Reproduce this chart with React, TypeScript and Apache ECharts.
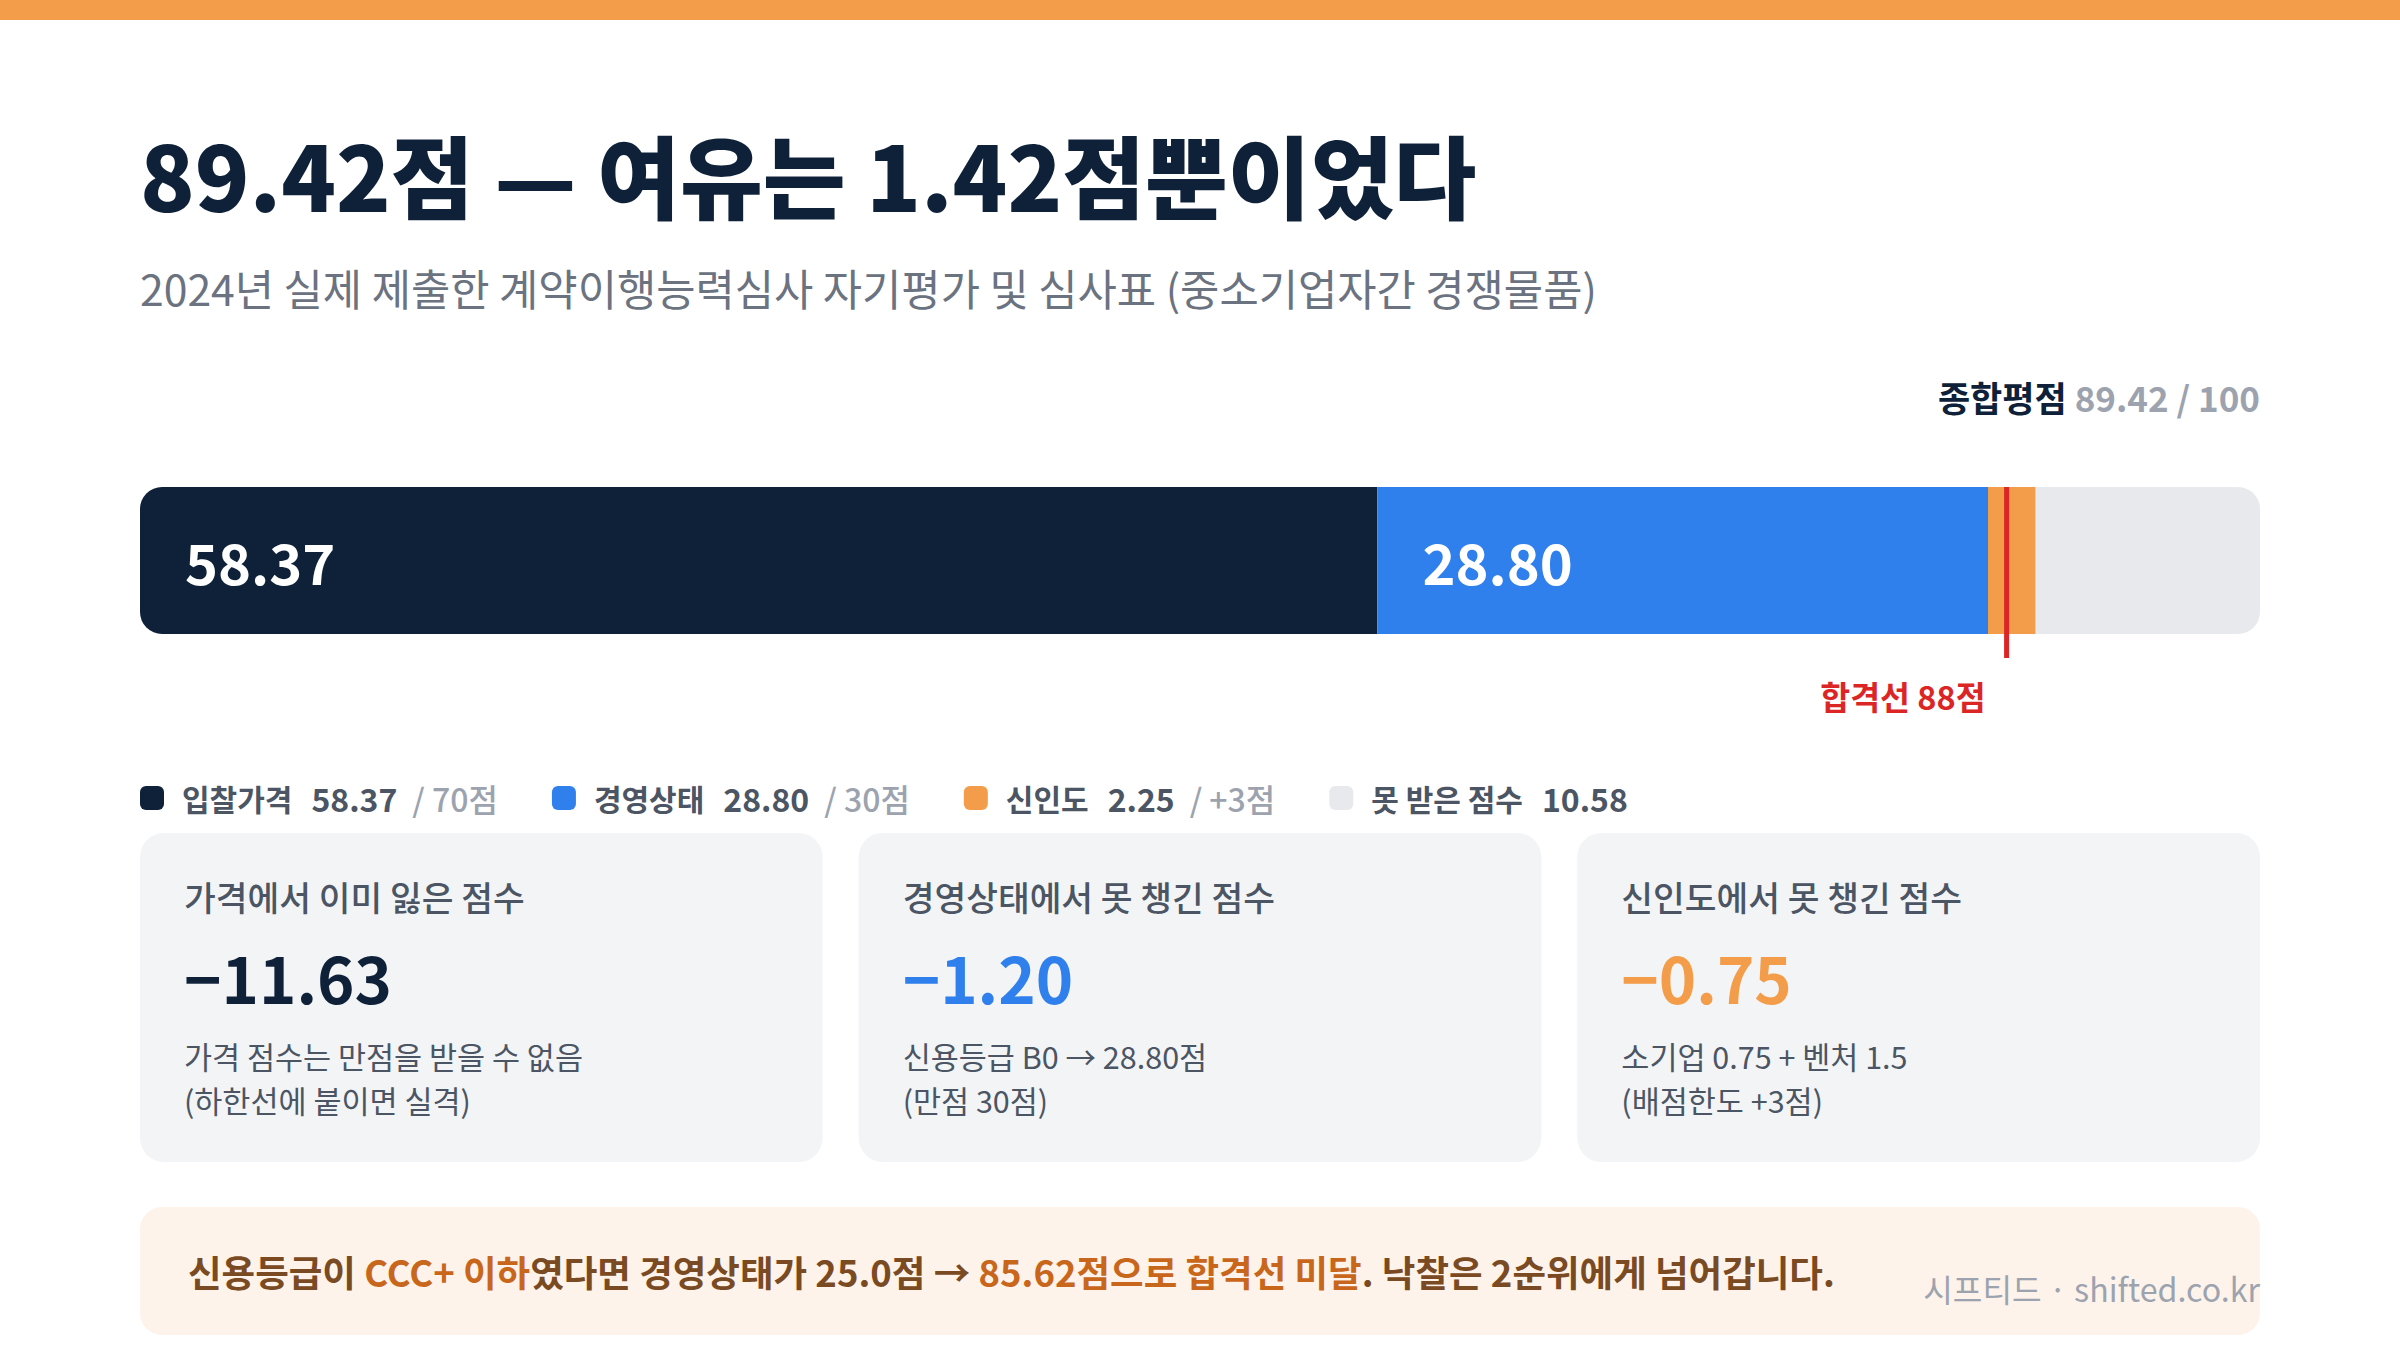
import React, { useEffect, useRef } from "react";
import * as echarts from "echarts";

const categories = ["입찰가격", "경영상태", "신인도", "못 받은 점수"];
const scores = [58.37, 28.8, 2.25];
const maxScores = [70, 30, 3];
const maxLabels = ["/ 70점", "/ 30점", "/ +3점"];
const fullScore = 100;
const passLine = 88;
const altMgmtScore = 25.0;
const altRating = "CCC+ 이하";
const cardTitles = ["가격에서 이미 잃은 점수", "경영상태에서 못 챙긴 점수", "신인도에서 못 챙긴 점수"];
const cardNotes = [
  ["가격 점수는 만점을 받을 수 없음", "(하한선에 붙이면 실격)"],
  ["신용등급 B0 → 28.80점", "(만점 30점)"],
  ["소기업 0.75 + 벤처 1.5", "(배점한도 +3점)"],
];
const subtitle = "2024년 실제 제출한 계약이행능력심사 자기평가 및 심사표 (중소기업자간 경쟁물품)";
const footer = "시프티드 · shifted.co.kr";

const colors = ["#0f2139", "#2f80ed", "#f39c4a", "#e8e9ed"];
const FONT = "'Noto Sans CJK KR', 'Noto Sans CJK SC', 'Noto Sans', sans-serif";

const r2 = (v: number) => Math.round(v * 100) / 100;

export default function App() {
  const ref = useRef<HTMLDivElement>(null);
  useEffect(() => {
    if (!ref.current) return;
    const chart = echarts.init(ref.current, undefined, { renderer: "svg" });
    const total = r2(scores.reduce((a, b) => a + b, 0));
    const missing = r2(fullScore - total);
    const values = [...scores, missing];
    const margin = r2(total - passLine);
    const altTotal = r2(total - scores[1] + altMgmtScore);

    const gridLeft = 140;
    const gridWidth = 2120;
    const cardGap = 36;
    const cardW = (gridWidth - cardGap * 2) / 3;
    const cardTop = 833;
    const cardH = 329;
    const numColors = [colors[0], colors[1], colors[2]];

    const graphic: any[] = [
      { type: "rect", shape: { x: 0, y: 0, width: 2400, height: 20 }, style: { fill: "#f39c4a" } },
      {
        type: "text", x: 140, y: 173,
        style: { text: `${total.toFixed(2)}점 — 여유는 ${margin.toFixed(2)}점뿐이었다`, fontSize: 90, fontWeight: 900, fontFamily: FONT, fill: "#0f2139", align: "left", verticalAlign: "middle" },
      },
      {
        type: "text", x: 140, y: 287,
        style: { text: subtitle, fontSize: 42.7, fontWeight: 400, fontFamily: FONT, fill: "#6b7280", align: "left", verticalAlign: "middle" },
      },
      {
        type: "text", x: 2260, y: 396,
        style: {
          text: `{a|종합평점}{b| ${total.toFixed(2)} / ${fullScore}}`,
          align: "right", verticalAlign: "middle", fontFamily: FONT,
          rich: {
            a: { fontSize: 35, fontWeight: "bold", fill: "#0f2139", fontFamily: FONT },
            b: { fontSize: 35, fontWeight: 600, fill: "#9ca3af", fontFamily: FONT },
          },
        },
      },
    ];

    for (let i = 0; i < 3; i++) {
      const x = gridLeft + i * (cardW + cardGap);
      graphic.push({ type: "rect", shape: { x, y: cardTop, width: cardW, height: cardH, r: 24 }, style: { fill: "#f3f4f6" } });
      graphic.push({ type: "text", x: x + 44, y: 896, style: { text: cardTitles[i], fontSize: 34.5, fontWeight: 500, fontFamily: FONT, fill: "#4b5563", verticalAlign: "middle" } });
      graphic.push({ type: "text", x: x + 44, y: 976, style: { text: `−${r2(maxScores[i] - scores[i]).toFixed(2)}`, fontSize: 63.5, fontWeight: "bold", fontFamily: FONT, fill: numColors[i], verticalAlign: "middle" } });
      graphic.push({ type: "text", x: x + 44, y: 1056, style: { text: cardNotes[i][0], fontSize: 30.5, fontWeight: 400, fontFamily: FONT, fill: "#4b5563", verticalAlign: "middle" } });
      graphic.push({ type: "text", x: x + 44, y: 1100, style: { text: cardNotes[i][1], fontSize: 30.5, fontWeight: 400, fontFamily: FONT, fill: "#4b5563", verticalAlign: "middle" } });
    }

    graphic.push({ type: "rect", shape: { x: gridLeft, y: 1207, width: gridWidth, height: 128, r: 22 }, style: { fill: "#fdf3ea" } });
    graphic.push({
      type: "text", x: 188, y: 1271,
      style: {
        text: `{a|신용등급이 }{b|${altRating}}{a|였다면 경영상태가 ${altMgmtScore.toFixed(1)}점 → }{b|${altTotal.toFixed(2)}점으로 합격선 미달}{a|. 낙찰은 2순위에게 넘어갑니다.}`,
        verticalAlign: "middle", fontFamily: FONT,
        rich: {
          a: { fontSize: 36.5, fontWeight: "bold", fill: "#7a4a22", fontFamily: FONT },
          b: { fontSize: 36.5, fontWeight: "bold", fill: "#c8661c", fontFamily: FONT },
        },
      },
    });
    graphic.push({
      type: "text", x: 2260, y: 1288,
      style: { text: footer, fontSize: 32.2, fontWeight: 400, fontFamily: FONT, fill: "#9ca3af", align: "right", verticalAlign: "middle" },
    });

    const radius = 22;
    const series: any[] = values.map((v, i) => ({
      name: categories[i],
      type: "bar",
      stack: "total",
      barWidth: "100%",
      data: [v],
      itemStyle: {
        color: colors[i],
        borderRadius: i === 0 ? [radius, 0, 0, radius] : i === values.length - 1 ? [0, radius, radius, 0] : 0,
      },
      label: {
        show: i < 2,
        position: "insideLeft",
        distance: 45,
        formatter: (p: any) => Number(p.value).toFixed(2),
        color: "#ffffff",
        fontSize: 56,
        fontWeight: "bold",
        fontFamily: FONT,
      },
      emphasis: { disabled: true },
    }));

    series.push({
      type: "custom",
      name: "pass",
      clip: false,
      z: 10,
      data: [[passLine, 0]],
      encode: { x: 0, y: 1 },
      renderItem: (params: any, api: any) => {
        const p = api.coord([api.value(0), api.value(1)]);
        const bandH = api.size([0, 1])[1];
        const top = p[1] - bandH / 2;
        const bottom = top + bandH + 24;
        return {
          type: "group",
          children: [
            { type: "line", shape: { x1: p[0] + 1, y1: top, x2: p[0] + 1, y2: bottom }, style: { stroke: "#dc2626", lineWidth: 5 } },
            {
              type: "text", x: p[0] - 20, y: bottom + 37,
              style: { text: `합격선 ${passLine}점`, fill: "#dc2626", fontSize: 32.5, fontWeight: "bold", fontFamily: FONT, align: "right", verticalAlign: "middle" },
            },
          ],
        };
      },
    });

    const valueByName: Record<string, number> = {};
    categories.forEach((c, i) => (valueByName[c] = values[i]));

    chart.setOption({
      animation: false,
      backgroundColor: "#ffffff",
      textStyle: { fontFamily: FONT },
      grid: { left: gridLeft, width: gridWidth, top: 487, height: 147 },
      xAxis: { type: "value", min: 0, max: fullScore, show: false },
      yAxis: { type: "category", data: ["score"], show: false },
      legend: {
        left: 140, top: 782, padding: 0, itemWidth: 24, itemHeight: 24, itemGap: 54,
        icon: "roundRect", selectedMode: false,
        data: categories,
        formatter: (name: string) => {
          const i = categories.indexOf(name);
          const v = valueByName[name].toFixed(2);
          return i < 3 ? `{n|${name}}{v|${v}}{m|${maxLabels[i]}}` : `{n|${name}}{v|${v}}`;
        },
        textStyle: {
          fontFamily: FONT,
          rich: {
            n: { fontSize: 30, fontWeight: 600, color: "#4b5563", fontFamily: FONT, padding: [0, 0, 0, 13] },
            v: { fontSize: 32, fontWeight: "bold", color: "#4b5563", fontFamily: FONT, padding: [0, 0, 0, 19] },
            m: { fontSize: 32, fontWeight: 500, color: "#9ca3af", fontFamily: FONT, padding: [0, 0, 0, 15] },
          },
        },
      },
      graphic,
      series,
    });
    return () => chart.dispose();
  }, []);
  return <div ref={ref} style={{ position: "absolute", left: 0, top: 0, width: 2400, height: 1350, background: "#fff" }} />;
}
